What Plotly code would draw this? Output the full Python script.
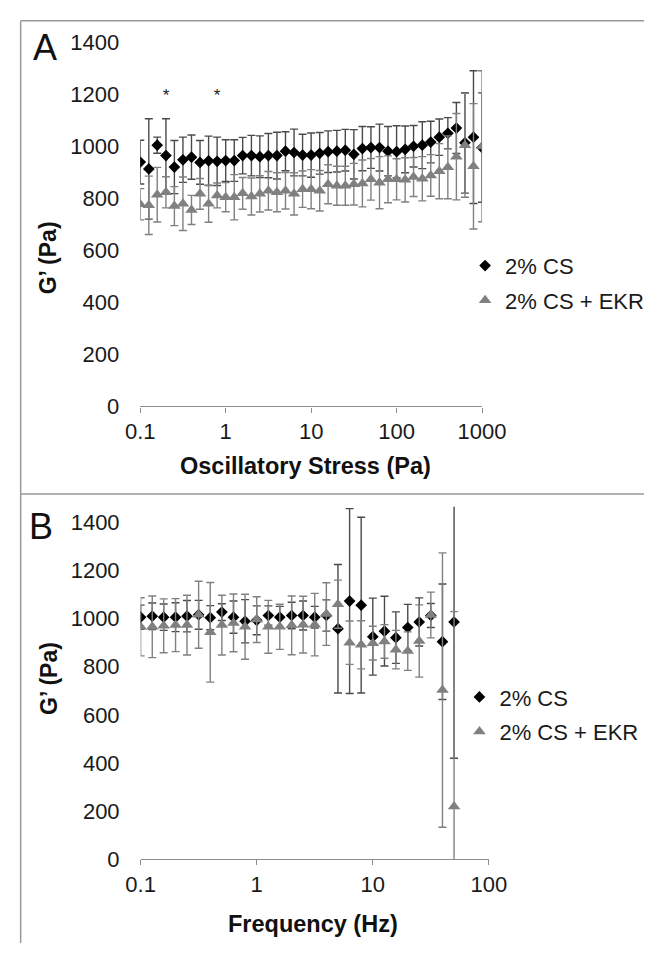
import plotly.graph_objects as go

# ---------------- data ----------------
stress_pa = [0.1, 0.126, 0.158, 0.2, 0.251, 0.316, 0.398, 0.501, 0.631, 0.794,
             1.0, 1.26, 1.58, 2.0, 2.51, 3.16, 3.98, 5.01, 6.31, 7.94,
             10.0, 12.6, 15.8, 20.0, 25.1, 31.6, 39.8, 50.1, 63.1, 79.4,
             100, 126, 158, 200, 251, 316, 398, 501, 631, 794, 1000]
a_cs = [939, 913, 1004, 964, 920, 948, 958, 938, 944, 942,
        945, 945, 964, 964, 960, 964, 964, 981, 976, 966,
        966, 973, 979, 981, 985, 969, 991, 995, 995, 981,
        979, 988, 1000, 1004, 1016, 1035, 1050, 1070, 1013, 1035, 995]
a_cs_err = [84, 193, 31, 142, 102, 87, 85, 84, 95, 93,
            80, 80, 70, 78, 80, 85, 90, 75, 90, 80,
            85, 80, 80, 80, 80, 95, 85, 80, 90, 95,
            100, 90, 80, 90, 80, 70, 60, 98, 193, 255, 210]
a_ekr = [777, 773, 814, 823, 770, 779, 755, 817, 779, 811,
         804, 804, 819, 807, 817, 829, 823, 829, 817, 835,
         835, 829, 854, 848, 848, 854, 857, 873, 860, 873,
         873, 871, 882, 875, 888, 904, 919, 960, 1004, 923, 1000]
a_ekr_err = [60, 112, 105, 60, 75, 103, 56, 59, 71, 48,
             56, 87, 61, 71, 70, 74, 75, 70, 81, 70,
             75, 78, 75, 75, 75, 80, 90, 80, 100, 90,
             79, 85, 75, 85, 80, 106, 121, 166, 200, 241, 290]
star_x = [0.2, 0.794]
star_y = [1190, 1190]

freq_hz = [0.1, 0.126, 0.158, 0.2, 0.251, 0.316, 0.398, 0.501, 0.631, 0.794,
           1.0, 1.26, 1.58, 2.0, 2.51, 3.16, 3.98, 5.01, 6.31, 7.94,
           10.0, 12.6, 15.8, 20.0, 25.1, 31.6, 39.8, 50.1]
b_cs = [1006, 1010, 1006, 1006, 1010, 1016, 1004, 1027, 1006, 989,
        993, 1013, 1006, 1013, 1013, 1006, 1013, 958, 1073, 1056,
        925, 948, 921, 963, 986, 1013, 904, 986]
b_cs_err = [50, 55, 55, 60, 65, 60, 50, 35, 67, 90,
            60, 40, 45, 55, 60, 45, 65, 267, 384, 365,
            160, 145, 107, 96, 100, 50, 240, 566]
b_ekr = [966, 966, 970, 973, 973, 1016, 943, 973, 982, 966,
         996, 966, 966, 972, 975, 975, 1019, 1060, 900, 891,
         898, 905, 871, 865, 907, 1015, 703, 219]
b_ekr_err = [121, 128, 112, 110, 124, 139, 207, 124, 120, 135,
             95, 110, 94, 122, 118, 130, 130, 100, 90, 100,
             70, 70, 80, 80, 150, 95, 570, 810]

y_ticks = [0, 200, 400, 600, 800, 1000, 1200, 1400]
a_xticks = [0.1, 1, 10, 100, 1000]
a_xtext = ["0.1", "1", "10", "100", "1000"]
b_xticks = [0.1, 1, 10, 100]
b_xtext = ["0.1", "1", "10", "100"]
name_cs = "2% CS"
name_ekr = "2% CS + EKR"

# ---------------- styles ----------------
W, H = 668, 956
FONT = "Liberation Sans, Arial, sans-serif"
BLACK = "#000000"
GRAY = "#808080"
ERR_BLACK = "#4a4a4a"
ERR_GRAY = "#808080"
AXIS = "#8c8c8c"

def px_x(p):
    return p / W

def px_y(p):
    return 1 - p / H

fig = go.Figure()

def add_series(x, y, err, name, color, ecolor, symbol, size, xa, ya, legend, group):
    fig.add_trace(go.Scatter(
        x=x, y=y, mode="markers", name=name,
        marker=dict(symbol=symbol, size=size, color=color, line=dict(width=0)),
        error_y=dict(type="data", array=err, symmetric=True, color=ecolor,
                     thickness=1.4, width=4),
        xaxis=xa, yaxis=ya, legend=legend, legendgroup=group,
    ))

add_series(stress_pa, a_cs, a_cs_err, name_cs, BLACK, ERR_BLACK, "diamond", 9, "x", "y", "legend", "a1")
add_series(stress_pa, a_ekr, a_ekr_err, name_ekr, GRAY, ERR_GRAY, "triangle-up", 11, "x", "y", "legend", "a2")
add_series(freq_hz, b_cs, b_cs_err, name_cs, BLACK, ERR_BLACK, "diamond", 9, "x2", "y2", "legend2", "b1")
add_series(freq_hz, b_ekr, b_ekr_err, name_ekr, GRAY, ERR_GRAY, "triangle-up", 11, "x2", "y2", "legend2", "b2")

fig.add_trace(go.Scatter(
    x=star_x, y=star_y, mode="text", text=["*"] * len(star_x),
    textfont=dict(family=FONT, size=17, color="#222"),
    showlegend=False, xaxis="x", yaxis="y",
))

tickfont = dict(family=FONT, size=22, color="#1a1a1a")

xcommon = dict(type="log", showgrid=False, zeroline=False, showline=True,
               linecolor=AXIS, linewidth=1.3, ticks="outside", ticklen=5,
               tickcolor=AXIS, tickwidth=1.3, tickfont=tickfont)
ycommon = dict(showgrid=False, zeroline=False, showline=False, ticks="",
               tickvals=y_ticks, ticktext=[str(v) for v in y_ticks],
               tickfont=tickfont, ticklabelstandoff=20)

legend_common = dict(font=dict(family=FONT, size=22, color="#1a1a1a"),
                     bgcolor="rgba(0,0,0,0)", borderwidth=0,
                     itemwidth=30, tracegroupgap=3, xanchor="left", yanchor="top")

fig.update_layout(
    width=W, height=H,
    margin=dict(l=0, r=0, t=0, b=0),
    paper_bgcolor="white", plot_bgcolor="white",
    showlegend=True,
    xaxis=dict(xcommon, domain=[px_x(133), px_x(496)], range=[-1, 3],
               tickvals=a_xticks, ticktext=a_xtext, anchor="y"),
    yaxis=dict(ycommon, domain=[px_y(405), px_y(31)], range=[0, 1400], anchor="x"),
    xaxis2=dict(xcommon, domain=[px_x(133.4), px_x(503.3)], range=[-1, 2],
                tickvals=b_xticks, ticktext=b_xtext, anchor="y2"),
    yaxis2=dict(ycommon, domain=[px_y(870), px_y(508)], range=[0, 1465], anchor="x2"),
    legend=dict(legend_common, x=px_x(478), y=px_y(239)),
    legend2=dict(legend_common, x=px_x(472), y=px_y(682)),
)

# frame lines
line_style = dict(color="#9a9a9a", width=1.5)
for (x0, y0, x1, y1) in [(6, 9, 668, 9), (6, 9, 6, 956), (6, 495, 668, 495)]:
    fig.add_shape(type="line", xref="paper", yref="paper",
                  x0=px_x(x0), y0=px_y(y0), x1=px_x(x1), y1=px_y(y1), line=line_style)

def ann(text, x, y, size, angle=0, bold=False):
    t = f"<b>{text}</b>" if bold else text
    fig.add_annotation(text=t, x=px_x(x), y=px_y(y), xref="paper", yref="paper",
                       showarrow=False, textangle=angle, xanchor="center", yanchor="middle",
                       font=dict(family=FONT, size=size, color="#111"))

ann("A", 32, 36, 36)
ann("B", 28, 528, 36)
ann("Oscillatory Stress (Pa)", 308, 466, 23.5, bold=True)
ann("Frequency (Hz)", 316, 936, 23.5, bold=True)
ann("G’ (Pa)", 36, 252, 23, angle=-90, bold=True)
ann("G’ (Pa)", 36, 684, 23, angle=-90, bold=True)

fig.write_html("out.html", config={"displayModeBar": False},
               post_script="document.body.style.margin='0px';document.body.style.overflow='hidden';")
